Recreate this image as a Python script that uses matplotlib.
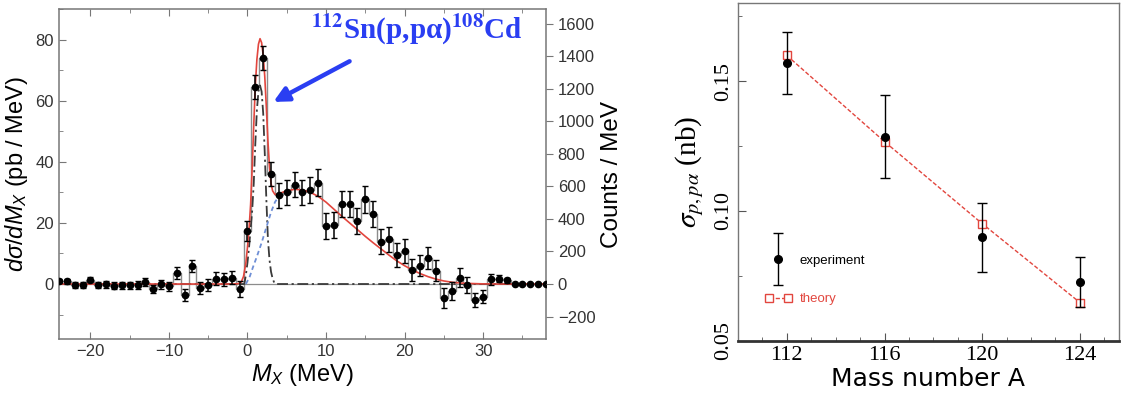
import numpy as np
import matplotlib
matplotlib.use("Agg")
import matplotlib.pyplot as plt
from matplotlib.ticker import MultipleLocator
from matplotlib.legend_handler import HandlerErrorbar, HandlerLine2D
from matplotlib.container import ErrorbarContainer

plt.rcParams['font.family'] = ['Liberation Sans', 'DejaVu Sans']
plt.rcParams['mathtext.fontset'] = 'custom'
plt.rcParams['mathtext.it'] = 'Liberation Sans:italic'
plt.rcParams['mathtext.rm'] = 'Liberation Sans'
plt.rcParams['mathtext.bf'] = 'Liberation Sans:bold'

# --- left panel: missing-mass spectrum (pb / MeV), 1 MeV bins ---
mx = np.arange(-24, 39)
xsec = [1.0, 0.9, -0.4, -0.3, 1.4, -0.2, -0.1, -0.5, -0.4, -0.4, -0.2, 0.6, -1.6, -0.1, -0.8,
        3.6, -3.5, 5.9, -1.2, -0.4, 1.8, 1.6, 2.1, -1.5,
        17.4, 64.5, 74.0, 36.0, 29.0, 30.0, 32.5, 30.0, 30.8, 33.2,
        19.0, 19.4, 26.1, 26.3, 20.6, 27.7, 23.0, 13.9, 14.7, 9.4, 10.8,
        4.7, 6.0, 8.5, 4.3, -4.5, -2.3, 2.0, -0.3, -5.2, -4.1, 1.5, 1.8, 1.2,
        0, 0, 0, 0, 0]
xsec_err = [0.8, 0.8, 0.9, 0.9, 0.9, 1.0, 1.1, 1.1, 1.2, 1.2, 1.3, 1.3, 1.4, 1.5, 1.6,
            2.0, 1.9, 1.9, 2.0, 2.0, 2.0, 2.1, 2.1, 2.6,
            3.2, 3.8, 3.9, 3.9, 4.0, 4.0, 4.1, 4.1, 4.2, 4.3,
            4.3, 4.3, 4.3, 4.3, 4.2, 4.4, 4.2, 4.1, 4.1, 3.9, 3.9,
            3.6, 3.5, 3.7, 3.4, 3.2, 3.0, 3.1, 2.6, 2.3, 2.2, 1.8, 1.2, 0.9,
            0, 0, 0, 0, 0]

# fit curves
fit_x = [-24, -2, -1.2, -0.8, -0.5, -0.2,
         0.0, 0.2, 0.4, 0.6, 0.8, 1.0, 1.2, 1.4, 1.6, 1.8, 2.0, 2.2, 2.4, 2.6, 2.8, 3.0, 3.2,
         3.5, 4.0, 5, 6, 7, 8, 9, 10, 11, 12, 13, 14, 15, 16, 17, 18, 19, 20, 21, 22, 23,
         24, 25, 26, 27, 28, 30, 32, 38]
fit_y = [0, 0, 0.1, 0.6, 2.5, 7,
         12, 18, 26, 38, 52, 65, 73.5, 78.5, 80.3, 79, 75, 68, 58, 47, 38.5, 33, 30.5,
         29.3, 29.6, 30.5, 31, 30.8, 30, 28.7, 26.8, 24.5, 22.2, 20, 17.8, 15.6, 13.5, 11.5,
         9.5, 7.6, 6.0, 4.6, 3.4, 2.4, 1.6, 1.0, 0.6, 0.35, 0.2, 0.05, 0, 0]
cont_x = [-0.2, 0.3, 0.7, 1.2, 1.8, 2.4, 3.0, 3.5, 4.0, 4.5, 5.0]
cont_y = [0, 2.5, 5.5, 9, 13.5, 18.5, 23.5, 26.8, 28.8, 29.8, 30.4]
peak_x = [-24, -0.4, -0.2, 0.0, 0.2, 0.4, 0.6, 0.8, 1.0, 1.2, 1.4, 1.6, 1.8, 2.0, 2.2,
          2.4, 2.6, 2.8, 3.0, 3.2, 3.4, 3.6, 38]
peak_y = [0, 0, 3, 7, 12, 18, 24, 33, 46, 57, 63, 65, 63, 56, 43,
          28, 15, 8, 4, 1.8, 0.5, 0, 0]
counts_per_pb = 18.77

# --- right panel: cross section vs mass number ---
mass_a = [112, 116, 120, 124]
sigma_exp = [0.157, 0.1285, 0.0899, 0.0726]
sigma_err = [0.012, 0.016, 0.0133, 0.0096]
sigma_th = [0.1599, 0.1267, 0.0951, 0.0647]

blue = '#2a3ef2'
red = '#e2463e'
fig = plt.figure(figsize=(11.21, 3.98), dpi=100)

ax = fig.add_axes([0.0526, 0.1482, 0.4344, 0.8291])
edges = np.append(mx - 0.5, mx[-1] + 0.5)
ax.stairs(xsec, edges, color='#8c8c8c', linewidth=1.0, zorder=2)
ax.axhline(0, color='#8c8c8c', lw=0.9, zorder=1)
ax.plot(peak_x, peak_y, color='#3a3a3a', lw=1.3, dashes=(6, 2, 1.2, 2), zorder=3)
ax.plot(cont_x, cont_y, color='#6f8fd6', lw=1.3, dashes=(2.5, 1.8), zorder=3)
ax.plot(fit_x, fit_y, color=red, lw=1.2, zorder=4)
ax.errorbar(mx, xsec, yerr=xsec_err, fmt='o', color='black', ms=4.5, elinewidth=1.1,
            capsize=2.2, capthick=1.0, zorder=5)
ax.set_xlim(-24, 38)
ax.set_ylim(-18, 90)
ax.xaxis.set_major_locator(MultipleLocator(10))
ax.xaxis.set_minor_locator(MultipleLocator(5))
ax.yaxis.set_major_locator(MultipleLocator(20))
ax.yaxis.set_minor_locator(MultipleLocator(10))
ax.tick_params(which='both', direction='in', top=True, right=False, labelsize=12,
               colors='#777777', labelcolor='#333333')
ax.tick_params(which='major', length=5)
ax.tick_params(which='minor', length=3)
for s in ax.spines.values():
    s.set_color('#777777')
    s.set_linewidth(1.1)
ax.set_xlabel(r'$M_X$ (MeV)', fontsize=17, labelpad=2)
ax.set_ylabel(r'$d\sigma/dM_X$ (pb / MeV)', fontsize=17, labelpad=4)

axr = ax.twinx()
lo, hi = ax.get_ylim()
axr.set_ylim(lo * counts_per_pb, hi * counts_per_pb)
axr.yaxis.set_major_locator(MultipleLocator(200))
axr.tick_params(direction='out', length=5, labelsize=12, colors='#777777', labelcolor='#333333')
for s in axr.spines.values():
    s.set_visible(False)
axr.set_ylabel('Counts / MeV', fontsize=17.5, labelpad=4)

ax.text(21.6, 80.5, r'$\mathbf{{}^{112}}$Sn(p,pα)$\mathbf{{}^{108}}$Cd', math_fontfamily='stix',
        family='Liberation Serif', weight='bold', fontsize=21, color=blue,
        ha='center', va='baseline', zorder=6)
ax.annotate('', xy=(3.3, 59.6), xytext=(13.0, 72.9),
            arrowprops=dict(arrowstyle='-|>', color=blue, lw=3.2, mutation_scale=22,
                            shrinkA=0, shrinkB=0), zorder=6)

ax2 = fig.add_axes([0.6583, 0.144, 0.3399, 0.8477])
th_line, = ax2.plot(mass_a, sigma_th, color=red, lw=1.0, dashes=(3, 1.5), marker='s', ms=6,
                    mfc='white', mec=red, mew=1.0, zorder=3)
exp = ax2.errorbar(mass_a, sigma_exp, yerr=sigma_err, fmt='o', color='black', ms=5.5,
                   elinewidth=1.0, capsize=3.5, capthick=1.0, zorder=4)
ax2.set_xlim(110, 125.6)
ax2.set_ylim(0.05, 0.18)
ax2.xaxis.set_major_locator(MultipleLocator(4))
ax2.xaxis.set_minor_locator(MultipleLocator(1))
ax2.yaxis.set_major_locator(MultipleLocator(0.05))
ax2.yaxis.set_minor_locator(MultipleLocator(0.025))
ax2.yaxis.set_major_formatter(plt.FuncFormatter(lambda v, p: f'{v:.2f}'))
ax2.tick_params(which='both', direction='in', colors='#555555', labelcolor='black')
ax2.tick_params(which='major', length=6)
ax2.tick_params(which='minor', length=3)
for lab in ax2.get_xticklabels() + ax2.get_yticklabels():
    lab.set_family('Liberation Serif')
    lab.set_fontsize(16)
for lab in ax2.get_yticklabels():
    lab.set_rotation(90)
    lab.set_va('center')
for s in ax2.spines.values():
    s.set_color('#777777')
    s.set_linewidth(1.0)
ax2.spines['bottom'].set_color('#333333')
ax2.spines['bottom'].set_linewidth(2.0)
ax2.set_xlabel('Mass number A', fontsize=18, family='DejaVu Sans', labelpad=2)
ax2.set_ylabel(r'$\sigma_{p,p\alpha}$ (nb)', fontsize=21, family='Liberation Serif',
               math_fontfamily='stix', labelpad=6)

leg = ax2.legend([exp, th_line], ['experiment', 'theory'], loc='lower left',
                 bbox_to_anchor=(0.04, 0.07), frameon=False, fontsize=9.5,
                 handlelength=2.0, labelspacing=2.0, handletextpad=0.6,
                 handler_map={ErrorbarContainer: HandlerErrorbar(yerr_size=2.0),
                              th_line: HandlerLine2D(numpoints=2)})
leg.get_texts()[1].set_color(red)

fig.savefig('out.png', dpi=100)
